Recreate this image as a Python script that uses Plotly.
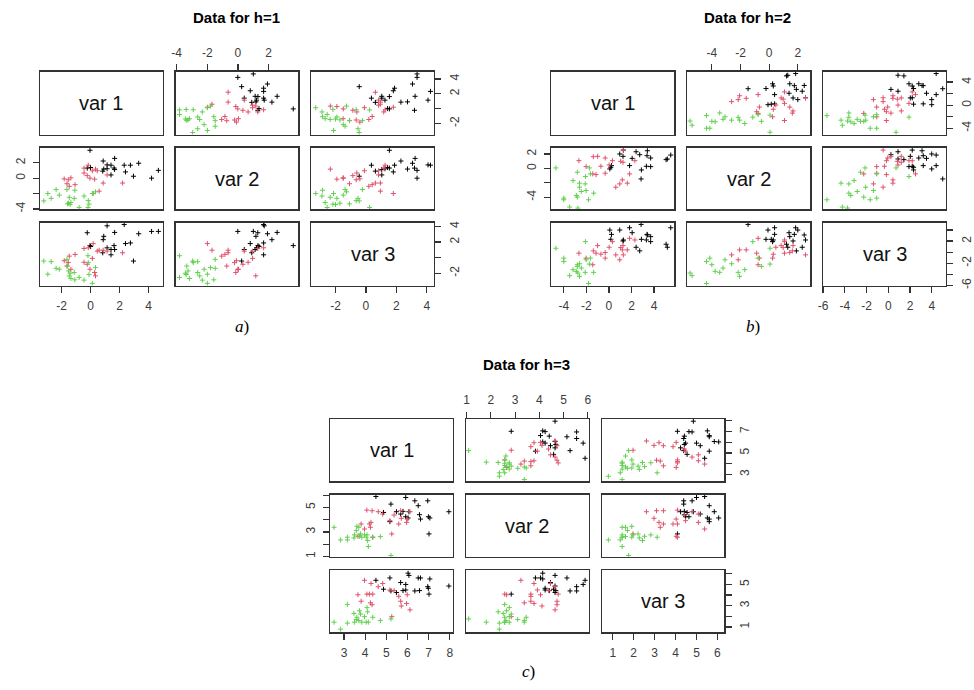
import plotly.graph_objects as go

# ---------------- data ----------------
# h = 1
h1_black_v1 = [-0.23, -0.04, 0.0, 0.84, 0.87, 0.91, 1.14, 1.14, 1.41, 1.41, 1.62, 1.66, 1.66, 2.32, 2.41, 2.75, 2.96, 3.32, 4.21, 4.68]
h1_black_v2 = [1.29, 3.6, 1.37, 0.9, 2.21, 1.17, 1.71, 1.21, 0.41, 1.67, 1.3, 2.55, 1.12, 1.67, 0.8, 1.67, 0.24, 1.92, -0.01, 1.0]
h1_black_v3 = [3.19, 1.54, 1.42, 0.62, 2.30, 2.73, 4.08, 1.25, 1.04, 0.36, 1.54, 3.23, 1.04, 4.24, 1.80, 1.88, -0.44, 3.06, 3.36, 3.36]
h1_pink_v1 = [-1.82, -1.63, -1.54, -1.47, -1.36, -1.07, -0.45, -0.45, -0.23, -0.16, -0.04, 0.12, 0.18, 0.28, 0.34, 0.46, 0.59, 0.87, 1.14, 2.21]
h1_pink_v2 = [-0.1, -0.73, -0.22, -1.06, 0.03, -0.85, 0.66, 1.29, 0.32, 1.67, -0.01, 0.95, -1.99, -0.14, 1.16, 0.95, -1.69, -0.64, 0.41, -0.64]
h1_pink_v3 = [-0.4, -1.08, -0.64, 0.19, -1.5, 0.41, -0.6, 1.17, -0.86, 1.26, -1.49, -0.1, 1.8, -1.91, -2.34, 0.83, 0.95, 0.95, 0.83, 0.62]
h1_green_v1 = [-3.23, -2.95, -2.72, -2.38, -2.16, -1.63, -1.59, -1.52, -1.47, -1.41, -1.36, -1.13, -1.09, -0.79, -0.45, -0.18, -0.16, -0.11, 0.12, 0.34]
h1_green_v2 = [-2.95, -1.99, -2.62, -1.48, -2.2, -1.48, -3.33, -3.25, -2.49, -3.42, -3.16, -2.62, -1.57, -3.8, -2.32, -3.8, -2.91, -3.37, -1.99, -1.78]
h1_green_v3 = [-0.44, -2.13, -0.52, -1.37, -1.49, -0.23, -1.08, -1.71, -2.35, -2.0, -2.68, -1.91, -2.85, -2.55, -2.89, 0.24, -0.64, -2.17, -3.3, -1.28]

# h = 2
h2_black_v1 = [0.08, 0.17, 0.23, 0.96, 1.25, 1.28, 1.83, 2.06, 2.41, 2.73, 2.85, 2.88, 3.32, 3.38, 3.41, 3.70, 3.70, 5.07, 5.18, 5.48]
h2_black_v2 = [-0.08, 0.15, 0.38, 2.0, 1.67, 2.54, 0.38, 1.39, 2.31, 1.9, -1.47, -0.22, 0.29, 1.76, 2.45, 1.44, 0.24, 1.21, 1.30, 1.85]
h2_black_v3 = [3.99, 2.32, 3.21, 3.99, 2.02, 2.20, 4.40, 3.51, 0.89, 0.24, 5.0, 2.32, 2.20, 3.21, 3.10, 2.80, 1.90, 1.43, 0.89, 4.40]
h2_pink_v1 = [-2.66, -2.02, -1.43, -1.38, -1.14, -1.0, -0.71, -0.33, -0.33, 0.02, 0.31, 0.61, 0.96, 1.04, 1.19, 1.25, 1.28, 1.63, 1.83, 2.30]
h2_pink_v2 = [1.07, 0.24, -0.77, 1.62, -0.87, 1.67, 0.29, 1.44, -0.68, 0.47, 1.07, -2.62, -2.16, 0.98, -1.60, 0.84, 2.54, -2.06, -0.77, 1.07]
h2_pink_v3 = [-0.18, -1.07, -2.26, 0.24, -0.18, 1.19, -0.36, -0.06, -1.07, 0.89, 1.90, -0.48, -1.37, 0.83, 0.42, 1.19, -0.48, 0.42, 2.5, 2.2]
h2_green_v1 = [-4.70, -4.0, -4.0, -3.48, -3.18, -2.89, -2.80, -2.80, -2.75, -2.60, -2.60, -2.45, -2.10, -2.08, -2.02, -1.81, -1.73, -1.64, -1.35]
h2_green_v2 = [0.06, -4.14, -4.37, -5.38, -1.7, -3.77, -0.54, -4.0, -5.52, -2.62, -2.06, -3.22, -2.16, -1.14, -3.08, -4.37, 0.06, -0.77, -3.45]
h2_green_v3 = [0.71, -1.07, -1.67, -4.23, -3.15, -3.45, -2.56, -2.26, -3.75, -2.08, -4.35, -2.86, -3.63, 1.90, -1.37, -5.65, -2.14, -1.07, -3.63]

# h = 3
h3_black_v1 = [4.51, 4.87, 5.17, 5.22, 5.48, 5.68, 5.79, 5.92, 5.92, 6.03, 6.07, 6.35, 6.51, 6.57, 6.62, 6.96, 6.99, 7.02, 7.06, 7.96]
h3_black_v2 = [5.89, 4.59, 3.84, 5.27, 4.65, 4.46, 4.68, 5.81, 4.24, 4.14, 4.65, 5.54, 5.14, 4.41, 4.05, 5.54, 4.24, 2.84, 4.14, 4.65]
h3_black_v3 = [5.39, 4.55, 5.61, 4.39, 4.24, 5.18, 4.42, 5.0, 4.48, 6.06, 5.85, 4.39, 5.61, 4.42, 5.61, 4.79, 4.64, 4.09, 5.52, 4.85]
h3_pink_v1 = [3.66, 3.81, 3.97, 4.08, 4.20, 4.25, 4.28, 4.33, 4.36, 4.62, 4.83, 5.17, 5.26, 5.37, 5.59, 5.68, 5.71, 5.96, 5.99, 6.12]
h3_pink_v2 = [2.65, 3.65, 3.24, 4.78, 3.65, 3.38, 3.78, 4.73, 2.57, 4.65, 4.46, 3.92, 2.84, 4.38, 3.65, 4.73, 4.11, 3.78, 4.05, 4.65]
h3_pink_v3 = [4.03, 3.42, 5.39, 4.09, 4.09, 3.27, 5.09, 3.09, 4.09, 4.79, 5.09, 4.48, 1.97, 4.42, 3.88, 3.42, 2.97, 3.21, 4.03, 2.61]
h3_green_v1 = [2.53, 2.84, 3.16, 3.16, 3.47, 3.50, 3.58, 3.61, 3.70, 3.73, 3.78, 3.84, 3.97, 4.05, 4.09, 4.12, 4.15, 4.36, 4.72, 5.22]
h3_green_v2 = [3.38, 2.35, 2.57, 2.35, 2.51, 2.76, 3.11, 3.46, 3.38, 2.65, 2.84, 2.57, 2.76, 2.57, 2.76, 2.30, 1.81, 2.57, 2.62, 1.08]
h3_green_v3 = [1.45, 0.79, 3.12, 1.36, 2.27, 1.45, 1.70, 1.91, 1.61, 2.52, 2.21, 1.45, 1.97, 1.45, 2.82, 2.42, 1.45, 1.91, 1.61, 1.76]

var_labels = ["var 1", "var 2", "var 3"]
titles = ["Data for h=1", "Data for h=2", "Data for h=3"]
captions = ["a", "b", "c"]

# tick values / labels per plot and variable
h1_ticks = [[-2, 0, 2, 4], [-4, -2, 0, 2], [-2, 0, 2, 4]]
h2_ticks = [[-4, -2, 0, 2, 4], [-4, -2, 0, 2], [-6, -4, -2, 0, 2, 4]]
h3_ticks = [[3, 4, 5, 6, 7, 8], [1, 2, 3, 4, 5, 6], [1, 2, 3, 4, 5, 6]]
# labels on the vertical axes (R drops overlapping ones)
h1_vlabels = [["-2", "", "2", "4"], ["-4", "", "0", "2"], ["-2", "", "2", "4"]]
h2_vlabels = [["-4", "", "0", "", "4"], ["-4", "", "0", "2"], ["-6", "", "-2", "", "2", ""]]
h3_vlabels = [["3", "", "5", "", "7", ""], ["1", "", "3", "", "5", ""], ["1", "", "3", "", "5", ""]]

# ---------------- figure ----------------
W, H = 974, 690
COLORS = {"black": "#000000", "pink": "#DF536B", "green": "#61D04F"}

plots = [
    dict(data={"black": (h1_black_v1, h1_black_v2, h1_black_v3),
               "pink": (h1_pink_v1, h1_pink_v2, h1_pink_v3),
               "green": (h1_green_v1, h1_green_v2, h1_green_v3)},
         ranges=[[-3.5, 4.98], [-4.06, 3.93], [-3.58, 4.47]],
         ticks=h1_ticks, vlabels=h1_vlabels,
         cols=[(35.3, 159.7), (172.7, 297.0), (310.3, 434.3)],
         rows=[(70.3, 133.7), (147.0, 209.3), (222.7, 286.0)],
         title_xy=(234, 16), cap_xy=(240, 327)),
    dict(data={"black": (h2_black_v1, h2_black_v2, h2_black_v3),
               "pink": (h2_pink_v1, h2_pink_v2, h2_pink_v3),
               "green": (h2_green_v1, h2_green_v2, h2_green_v3)},
         ranges=[[-5.09, 5.8], [-5.72, 2.87], [-6.0, 5.3]],
         ticks=h2_ticks, vlabels=h2_vlabels,
         cols=[(553.3, 677.7), (690.7, 815.3), (828.3, 952.7)],
         rows=[(70.3, 133.7), (147.0, 209.3), (222.7, 286.0)],
         title_xy=(752, 16), cap_xy=(757, 327)),
    dict(data={"black": (h3_black_v1, h3_black_v2, h3_black_v3),
               "pink": (h3_pink_v1, h3_pink_v2, h3_pink_v3),
               "green": (h3_green_v1, h3_green_v2, h3_green_v3)},
         ranges=[[2.35, 8.16], [0.97, 6.04], [0.48, 6.33]],
         ticks=h3_ticks, vlabels=h3_vlabels,
         cols=[(329.3, 453.7), (466.7, 591.0), (604.3, 728.3)],
         rows=[(420.7, 483.7), (497.0, 559.7), (573.3, 636.0)],
         title_xy=(528, 366), cap_xy=(530, 675)),
]

fig = go.Figure()
layout = {}
annotations = []
TICKFONT = dict(family="Liberation Sans, Arial", size=12, color="#3c3c3c")
BASE_AX = dict(showline=True, mirror=True, linecolor="#333333", linewidth=1.3,
               showgrid=False, zeroline=False, fixedrange=True)
TICK_STYLE = dict(ticks="outside", ticklen=6, tickwidth=1.2, tickcolor="#333333",
                  showticklabels=True, tickfont=TICKFONT, ticklabelstandoff=3)

k = 0
for p_i, P in enumerate(plots):
    for r in range(3):
        for c in range(3):
            k += 1
            xname = "xaxis" if k == 1 else f"xaxis{k}"
            yname = "yaxis" if k == 1 else f"yaxis{k}"
            xref = "x" if k == 1 else f"x{k}"
            yref = "y" if k == 1 else f"y{k}"
            x0, x1 = P["cols"][c]
            y0, y1 = P["rows"][r]
            xa = dict(BASE_AX, domain=[x0 / W, x1 / W], range=P["ranges"][c],
                      anchor=yref, showticklabels=False, ticks="")
            ya = dict(BASE_AX, domain=[1 - y1 / H, 1 - y0 / H], range=P["ranges"][r],
                      anchor=xref, showticklabels=False, ticks="")
            # R pairs axis placement
            if r == 0 and c == 1:
                xa.update(TICK_STYLE, side="top", tickvals=P["ticks"][c],
                          ticktext=[str(v) for v in P["ticks"][c]])
            if r == 2 and c in (0, 2):
                xa.update(TICK_STYLE, side="bottom", tickvals=P["ticks"][c],
                          ticktext=[str(v) for v in P["ticks"][c]])
            if c == 0 and r == 1:
                ya.update(TICK_STYLE, side="left", tickvals=P["ticks"][r],
                          ticktext=P["vlabels"][r], tickangle=-90)
            if c == 2 and r in (0, 2):
                ya.update(TICK_STYLE, side="right", tickvals=P["ticks"][r],
                          ticktext=P["vlabels"][r], tickangle=-90)
            layout[xname] = xa
            layout[yname] = ya

            if r == c:
                # empty trace so the panel box is drawn
                fig.add_trace(go.Scatter(x=[], y=[], mode="markers", xaxis=xref,
                                         yaxis=yref, showlegend=False, hoverinfo="skip"))
                annotations.append(dict(
                    text=var_labels[r], xref="paper", yref="paper",
                    x=(x0 + x1) / 2 / W, y=1 - (y0 + y1) / 2 / H,
                    xanchor="center", yanchor="middle", showarrow=False,
                    font=dict(family="Liberation Sans, Arial", size=20, color="#111111")))
            else:
                for grp in ["black", "pink", "green"]:
                    vals = P["data"][grp]
                    fig.add_trace(go.Scatter(
                        x=vals[c], y=vals[r], mode="markers", xaxis=xref, yaxis=yref,
                        showlegend=False, hoverinfo="skip",
                        marker=dict(symbol="cross-thin", size=3.6, color=COLORS[grp],
                                    line=dict(width=1, color=COLORS[grp]))))

    tx, ty = P["title_xy"]
    annotations.append(dict(
        text="<b>" + titles[p_i] + "</b>", xref="paper", yref="paper",
        x=tx / W, y=1 - ty / H, xanchor="center", yanchor="middle", showarrow=False,
        font=dict(family="Liberation Sans, Arial", size=15, color="#000000")))
    cx, cy = P["cap_xy"]
    annotations.append(dict(
        text="<i>" + captions[p_i] + "</i>)", xref="paper", yref="paper",
        x=cx / W, y=1 - cy / H, xanchor="center", yanchor="middle", showarrow=False,
        font=dict(family="Liberation Serif, DejaVu Serif", size=17, color="#000000")))

fig.update_layout(**layout)
fig.update_layout(
    width=W, height=H, autosize=False,
    margin=dict(l=0, r=0, t=0, b=0, pad=0),
    paper_bgcolor="white", plot_bgcolor="white",
    showlegend=False, annotations=annotations,
)

fig.write_html("out.html", config={"displayModeBar": False, "staticPlot": True},
               post_script="document.body.style.margin='0';document.body.style.overflow='hidden';")
